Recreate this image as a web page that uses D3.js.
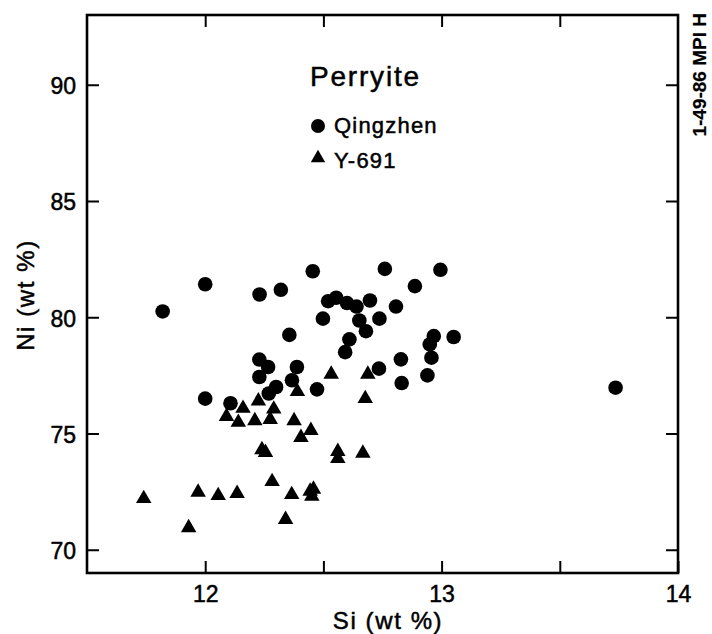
<!DOCTYPE html>
<html>
<head>
<meta charset="utf-8">
<script src="https://cdn.jsdelivr.net/npm/d3@7"></script>
<style>
  html, body { margin: 0; padding: 0; background: #fff; }
  svg { display: block; font-family: "Liberation Sans", Arial, Helvetica, sans-serif; }
  svg text { stroke: #000; stroke-width: 0.5px; }
</style>
</head>
<body>
<svg id="chart" width="712" height="634"></svg>
<script>
// Perryite compositions: Si vs Ni (wt %)
const qingzhenSi = [11.82, 12.00, 12.23, 12.32, 12.455, 12.76, 12.995, 12.887, 12.52, 12.554,
  12.60, 12.64, 12.697, 12.807, 12.498, 12.652, 12.737, 12.68, 12.356, 12.61,
  12.592, 12.967, 12.95, 12.957, 13.051, 12.828, 12.94, 12.831, 12.735, 12.229,
  12.266, 12.229, 12.30, 12.269, 12.388, 12.367, 12.473, 12.00, 12.107, 13.736];
const qingzhenNi = [80.25, 81.42, 80.98, 81.18, 81.98, 82.08, 82.04, 81.34, 80.69, 80.84,
  80.61, 80.46, 80.72, 80.46, 79.94, 79.86, 79.94, 79.40, 79.24, 79.05,
  78.50, 79.19, 78.83, 78.26, 79.15, 78.19, 77.50, 77.17, 77.79, 78.18,
  77.86, 77.43, 77.00, 76.72, 77.86, 77.29, 76.90, 76.50, 76.30, 76.97];

const y691Si = [11.74, 11.93, 11.97, 12.055, 12.135, 12.09, 12.16, 12.14, 12.21, 12.225,
  12.29, 12.275, 12.24, 12.255, 12.283, 12.366, 12.34, 12.39, 12.376, 12.447,
  12.405, 12.533, 12.561, 12.561, 12.444, 12.458, 12.451, 12.688, 12.677, 12.667];
const y691Ni = [72.20, 70.95, 72.47, 72.33, 72.42, 75.73, 76.08, 75.48, 75.55, 76.40,
  76.05, 75.60, 74.30, 74.18, 72.93, 72.37, 71.30, 76.80, 75.55, 75.13,
  74.83, 77.55, 74.23, 73.92, 72.52, 72.60, 72.30, 77.55, 76.50, 74.15];

const xDomain = [11.5, 14];
const yDomain = [69, 93];
const xTicks = [12, 12.5, 13, 13.5, 14];
const xTickLabels = ["12", "", "13", "", "14"];
const yTicks = [70, 75, 80, 85, 90];
const yTickLabels = ["70", "75", "80", "85", "90"];

const svg = d3.select("#chart");
const frame = { left: 87, right: 678, top: 15, bottom: 573 };

const x = d3.scaleLinear().domain(xDomain).range([frame.left, frame.right]);
const y = d3.scaleLinear().domain(yDomain).range([frame.bottom, frame.top]);

const ink = "#000";

// frame
svg.append("rect")
  .attr("x", frame.left).attr("y", frame.top)
  .attr("width", frame.right - frame.left).attr("height", frame.bottom - frame.top)
  .attr("fill", "none").attr("stroke", ink).attr("stroke-width", 2.6);

const tickLen = 12;

// bottom axis (inward ticks + labels)
const xAxisBottom = d3.axisBottom(x)
  .tickValues(xTicks)
  .tickFormat((d, i) => xTickLabels[i])
  .tickSizeInner(-tickLen).tickSizeOuter(0).tickPadding(24);
const gxb = svg.append("g").attr("transform", `translate(0,${frame.bottom})`).call(xAxisBottom);

// top axis (ticks only)
const xAxisTop = d3.axisTop(x).tickValues(xTicks.filter(v => v < 14))
  .tickFormat("").tickSizeInner(-tickLen).tickSizeOuter(0);
const gxt = svg.append("g").attr("transform", `translate(0,${frame.top})`).call(xAxisTop);

// left axis (inward ticks + labels)
const yAxisLeft = d3.axisLeft(y)
  .tickValues(yTicks)
  .tickFormat((d, i) => yTickLabels[i])
  .tickSizeInner(-tickLen).tickSizeOuter(0).tickPadding(22);
const gyl = svg.append("g").attr("transform", `translate(${frame.left},0)`).call(yAxisLeft);

// right axis (ticks only)
const yAxisRight = d3.axisRight(y).tickValues(yTicks)
  .tickFormat("").tickSizeInner(-tickLen).tickSizeOuter(0);
const gyr = svg.append("g").attr("transform", `translate(${frame.right},0)`).call(yAxisRight);

[gxb, gxt, gyl, gyr].forEach(g => {
  g.select(".domain").remove();
  g.selectAll(".tick line").attr("stroke", ink).attr("stroke-width", 2);
  g.selectAll(".tick text")
    .attr("fill", ink)
    .style("font-family", "'Liberation Sans', Arial, sans-serif")
    .style("font-size", "23px");
});
gyl.selectAll(".tick text").attr("dy", "0.38em").attr("x", -11);
gxb.selectAll(".tick text").attr("dy", "0.71em").attr("y", 13);

// axis titles
svg.append("text")
  .attr("x", 388).attr("y", 629)
  .attr("text-anchor", "middle")
  .style("font-size", "24px").style("letter-spacing", "1.6px")
  .attr("fill", ink)
  .text("Si (wt %)");

svg.append("text")
  .attr("transform", "translate(34,295) rotate(-90)")
  .attr("text-anchor", "middle")
  .style("font-size", "24px").style("letter-spacing", "1.6px")
  .attr("fill", ink)
  .text("Ni (wt %)");

// data marks
const plot = svg.append("g");
plot.selectAll("circle.q")
  .data(d3.range(qingzhenSi.length))
  .join("circle")
  .attr("class", "q")
  .attr("cx", i => x(qingzhenSi[i]))
  .attr("cy", i => y(qingzhenNi[i]))
  .attr("r", 7.3)
  .attr("fill", ink);

const tri = d3.symbol().type(d3.symbolTriangle).size(104);
plot.selectAll("path.y")
  .data(d3.range(y691Si.length))
  .join("path")
  .attr("class", "y")
  .attr("transform", i => `translate(${x(y691Si[i])},${y(y691Ni[i])})`)
  .attr("d", tri)
  .attr("fill", ink);

// legend
svg.append("text")
  .attr("x", 310).attr("y", 86)
  .style("font-size", "28px").style("letter-spacing", "1.8px")
  .attr("fill", ink)
  .text("Perryite");

const legend = [
  { label: "Qingzhen", shape: "circle", cy: 126, ty: 133 },
  { label: "Y-691", shape: "triangle", cy: 158, ty: 168 }
];
legend.forEach(l => {
  if (l.shape === "circle") {
    svg.append("circle").attr("cx", 318).attr("cy", l.cy).attr("r", 7).attr("fill", ink);
  } else {
    svg.append("path")
      .attr("transform", `translate(318,${l.cy})`)
      .attr("d", d3.symbol().type(d3.symbolTriangle).size(90)())
      .attr("fill", ink);
  }
  svg.append("text")
    .attr("x", 334).attr("y", l.ty)
    .style("font-size", "22px").style("letter-spacing", "1.2px")
    .attr("fill", ink)
    .text(l.label);
});

// figure reference number along the right margin
svg.append("text")
  .attr("transform", "translate(706,13) rotate(-90)")
  .attr("text-anchor", "end")
  .style("font-size", "19px").style("font-weight", "bold")
  .style("stroke-width", "0.2px")
  .attr("fill", ink)
  .text("1-49-86 MPI H");
</script>
</body>
</html>
